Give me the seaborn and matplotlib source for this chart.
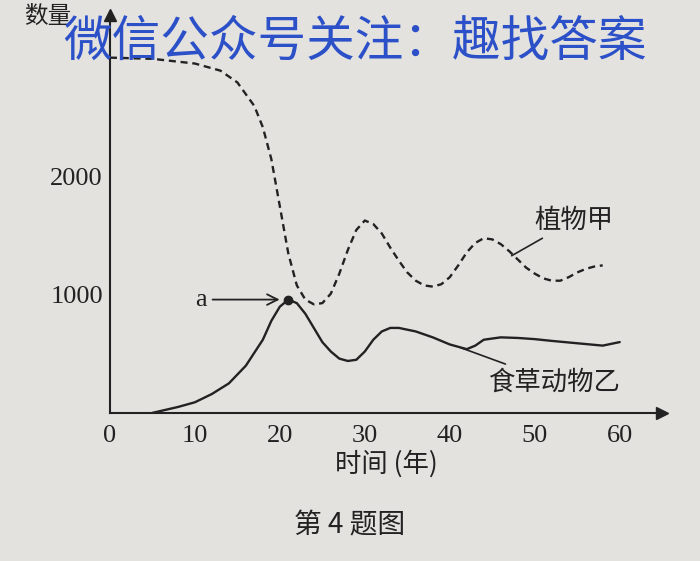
import numpy as np
import pandas as pd
import matplotlib.pyplot as plt
import seaborn as sns

sns.set_style("white")
plt.rcParams['font.family'] = ['Noto Sans CJK SC', 'DejaVu Sans']

# values
plant_years = [0, 5, 10, 13, 15, 17, 18, 19, 20, 21, 22, 23, 24, 25, 26, 27, 28, 29, 30, 31, 32, 33, 34,
               35, 36, 37, 38, 39, 40, 41, 42, 43, 44, 45, 46, 47, 48, 49, 50, 51, 52, 53, 54, 55, 56, 57, 58]
plant_counts = [3010, 3000, 2960, 2900, 2800, 2600, 2420, 2150, 1750, 1350, 1080, 960, 920, 930, 1010, 1180, 1380,
                1550, 1630, 1600, 1520, 1400, 1290, 1190, 1120, 1080, 1070, 1090, 1150, 1250, 1360, 1440, 1480,
                1470, 1430, 1370, 1300, 1230, 1180, 1140, 1120, 1120, 1150, 1190, 1220, 1240, 1250]
animal_years = [5, 8, 10, 12, 14, 16, 18, 19, 20, 21, 22, 23, 24, 25, 26, 27, 28, 29, 30, 31, 32, 33, 34,
                36, 38, 40, 42, 43, 44, 46, 48, 50, 52, 55, 58, 60]
animal_counts = [0, 50, 90, 160, 250, 400, 620, 780, 900, 960, 930, 840, 720, 600, 520, 460, 440, 450, 520,
                 620, 690, 720, 720, 690, 640, 580, 540, 570, 620, 640, 635, 625, 610, 590, 570, 600]
point_a = (21, 960)

fig = plt.figure(figsize=(7, 5.61), dpi=100)
fig.patch.set_facecolor('#e4e2df')
ax = fig.add_axes([0.157, 0.264, 0.789, 0.709])
ax.set_facecolor('#e4e2df')

ink = '#222222'
sns.lineplot(x=plant_years, y=plant_counts, ax=ax, color=ink, lw=1.7, linestyle=(0, (3, 2)))
sns.lineplot(x=animal_years, y=animal_counts, ax=ax, color=ink, lw=1.7)
ax.plot(*point_a, 'o', color=ink, ms=6)

ax.set_xlim(0, 65)
ax.set_ylim(0, 3370)
for s in ['top', 'right']:
    ax.spines[s].set_visible(False)
for s in ['left', 'bottom']:
    ax.spines[s].set_color(ink)
    ax.spines[s].set_linewidth(1.5)
ax.plot(1, 0, '>', color=ink, ms=8, transform=ax.transAxes, clip_on=False)
ax.plot(0, 1, '^', color=ink, ms=8, transform=ax.transAxes, clip_on=False)

ax.set_xticks([0, 10, 20, 30, 40, 50, 60])
ax.set_yticks([1000, 2000])
ax.tick_params(axis='both', direction='in', length=6, color=ink, labelsize=19, labelcolor=ink)
ax.tick_params(axis='x', pad=9)
ax.tick_params(axis='y', pad=5)
ax.set_xticklabels(['0', '10', '20', '30', '40', '50', '60'], family='Liberation Serif')
ax.set_yticklabels(['1000', '2000'], family='Liberation Serif')
ax.set_xlabel('时间 (年)', fontsize=19, color=ink, labelpad=2)

fig.text(0.035, 0.96, '数量', fontsize=17, color=ink)
ax.annotate('a', xy=(20.3, 960), xytext=(10, 960), fontsize=19, color=ink, va='center',
            family='Liberation Serif',
            arrowprops=dict(arrowstyle='->', color=ink, lw=1.3))
ax.annotate('植物甲', xy=(47, 1320), xytext=(50, 1570), fontsize=19, color=ink,
            arrowprops=dict(arrowstyle='-', color=ink, lw=1.2))
ax.annotate('食草动物乙', xy=(41, 560), xytext=(44.5, 200), fontsize=19, color=ink,
            arrowprops=dict(arrowstyle='-', color=ink, lw=1.2))

fig.text(0.5, 0.05, '第 4 题图', fontsize=20, color=ink, ha='center')
fig.text(0.09, 0.9, '微信公众号关注：趣找答案', fontsize=35, color='#2b50c8')

fig.savefig('out.png', dpi=100, facecolor=fig.get_facecolor())
